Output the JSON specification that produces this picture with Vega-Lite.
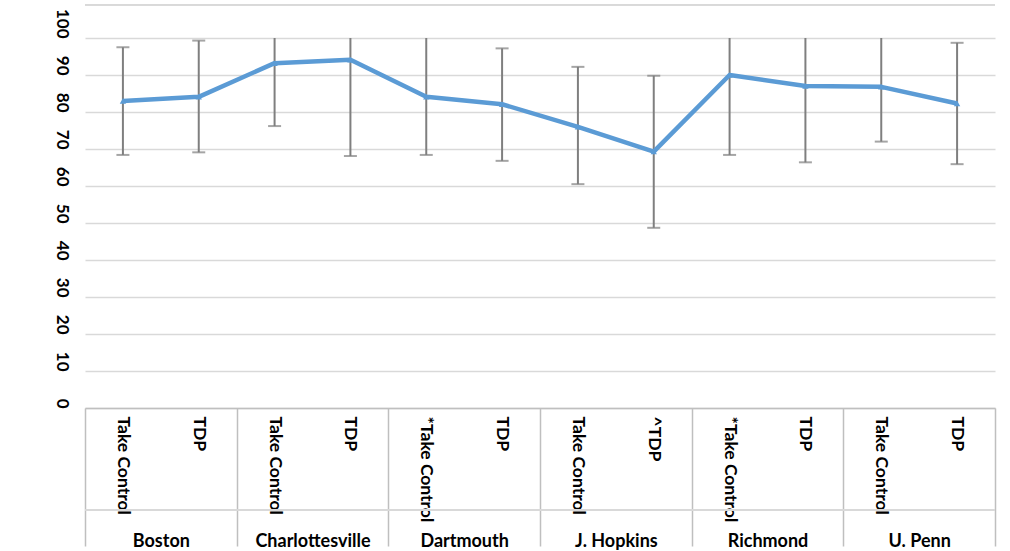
{
  "$schema": "https://vega.github.io/schema/vega-lite/v6.json",
  "width": 910,
  "height": 370,
  "autosize": "none",
  "padding": {"left": 85, "top": 38, "right": 15, "bottom": 143},
  "background": "white",
  "config": {
    "view": {"stroke": null},
    "font": "Lato",
    "axisY": {
      "grid": true, "gridColor": "#d9d9d9", "gridWidth": 1.5,
      "domain": false, "ticks": false, "tickCount": 10,
      "labelAngle": 90, "labelAlign": "right", "labelBaseline": "middle",
      "labelPadding": 24, "labelFont": "Lato", "labelFontSize": 17, "labelFontWeight": "bold", "labelColor": "#000000"
    }
  },
  "data": {
    "values": [
      {"id": "Boston|Take Control", "site": "Boston", "arm": "Take Control", "value": 83.0, "lower": 68.4, "upper": 97.5, "upperCap": 97.5},
      {"id": "Boston|TDP", "site": "Boston", "arm": "TDP", "value": 84.1, "lower": 69.1, "upper": 99.3, "upperCap": 99.3},
      {"id": "Charlottesville|Take Control", "site": "Charlottesville", "arm": "Take Control", "value": 93.2, "lower": 76.2, "upper": 100, "upperCap": null},
      {"id": "Charlottesville|TDP", "site": "Charlottesville", "arm": "TDP", "value": 94.1, "lower": 68.1, "upper": 100, "upperCap": null},
      {"id": "Dartmouth|*Take Control", "site": "Dartmouth", "arm": "*Take Control", "value": 84.1, "lower": 68.4, "upper": 100, "upperCap": null},
      {"id": "Dartmouth|TDP", "site": "Dartmouth", "arm": "TDP", "value": 82.1, "lower": 66.8, "upper": 97.2, "upperCap": 97.2},
      {"id": "J. Hopkins|Take Control", "site": "J. Hopkins", "arm": "Take Control", "value": 76.0, "lower": 60.5, "upper": 92.2, "upperCap": 92.2},
      {"id": "J. Hopkins|^TDP", "site": "J. Hopkins", "arm": "^TDP", "value": 69.3, "lower": 48.7, "upper": 89.8, "upperCap": 89.8},
      {"id": "Richmond|*Take Control", "site": "Richmond", "arm": "*Take Control", "value": 90.0, "lower": 68.4, "upper": 100, "upperCap": null},
      {"id": "Richmond|TDP", "site": "Richmond", "arm": "TDP", "value": 87.0, "lower": 66.4, "upper": 100, "upperCap": null},
      {"id": "U. Penn|Take Control", "site": "U. Penn", "arm": "Take Control", "value": 86.8, "lower": 72.0, "upper": 100, "upperCap": null},
      {"id": "U. Penn|TDP", "site": "U. Penn", "arm": "TDP", "value": 82.3, "lower": 65.9, "upper": 98.7, "upperCap": 98.7}
    ]
  },
  "resolve": {"scale": {"x": "independent"}, "axis": {"x": "independent"}},
  "layer": [
    {
      "mark": {"type": "rule", "color": "#d9d9d9", "strokeWidth": 1.5},
      "encoding": {
        "y": {"datum": 109, "type": "quantitative", "scale": {"domain": [0, 100]}, "axis": {"title": null}}
      }
    },
    {
      "mark": {"type": "rule", "color": "#d9d9d9", "strokeWidth": 1.5},
      "encoding": {
        "y": {"datum": -27.6, "type": "quantitative", "scale": {"domain": [0, 100]}, "axis": {"title": null}}
      }
    },
    {
      "mark": {"type": "point", "opacity": 0},
      "encoding": {
        "x": {
          "field": "site", "type": "nominal", "sort": null,
          "scale": {"type": "band", "paddingInner": 0, "paddingOuter": 0},
          "axis": {
            "orient": "bottom", "offset": 0, "title": null,
            "domain": false, "ticks": true, "tickBand": "extent",
            "tickSize": 138, "tickColor": "#bfbfbf", "tickWidth": 1.5,
            "labelAngle": 0, "labelAlign": "center", "labelBaseline": "top",
            "labelPadding": -14, "labelFont": "Lato", "labelFontSize": 18, "labelFontWeight": "bold",
            "labelColor": "#000000", "labelOverlap": false
          }
        }
      }
    },
    {
      "encoding": {
        "x": {
          "field": "id", "type": "nominal",
          "sort": ["Boston|Take Control", "Boston|TDP", "Charlottesville|Take Control", "Charlottesville|TDP", "Dartmouth|*Take Control", "Dartmouth|TDP", "J. Hopkins|Take Control", "J. Hopkins|^TDP", "Richmond|*Take Control", "Richmond|TDP", "U. Penn|Take Control", "U. Penn|TDP"],
          "scale": {"type": "band", "paddingInner": 0, "paddingOuter": 0},
          "axis": {
            "orient": "bottom", "offset": 0, "title": null,
            "domain": true, "domainColor": "#bfbfbf", "domainWidth": 1.5,
            "ticks": false, "labelExpr": "split(datum.value, '|')[1]",
            "labelAngle": 90, "labelAlign": "left", "labelBaseline": "middle",
            "labelPadding": 8, "labelFont": "Lato", "labelFontSize": 17.5, "labelFontWeight": "bold",
            "labelColor": "#000000", "labelOverlap": false
          }
        }
      },
      "layer": [
        {
          "mark": {"type": "rule", "color": "#7f7f7f", "strokeWidth": 2},
          "encoding": {
            "y": {"field": "lower", "type": "quantitative", "scale": {"domain": [0, 100]}, "axis": {"title": null}},
            "y2": {"field": "upper"}
          }
        },
        {
          "mark": {"type": "tick", "color": "#7f7f7f", "thickness": 2, "size": 13, "orient": "horizontal"},
          "encoding": {
            "y": {"field": "lower", "type": "quantitative", "scale": {"domain": [0, 100]}, "axis": {"title": null}}
          }
        },
        {
          "mark": {"type": "tick", "color": "#7f7f7f", "thickness": 2, "size": 13, "orient": "horizontal"},
          "encoding": {
            "y": {"field": "upperCap", "type": "quantitative", "scale": {"domain": [0, 100]}, "axis": {"title": null}}
          }
        },
        {
          "mark": {"type": "line", "color": "#5b9bd5", "strokeWidth": 4.5, "strokeJoin": "round"},
          "encoding": {
            "y": {"field": "value", "type": "quantitative", "scale": {"domain": [0, 100]}, "axis": {"title": null}}
          }
        },
        {
          "mark": {"type": "point", "shape": "triangle-up", "filled": true, "color": "#5b9bd5", "size": 40, "opacity": 1},
          "encoding": {
            "y": {"field": "value", "type": "quantitative", "scale": {"domain": [0, 100]}, "axis": {"title": null}}
          }
        }
      ]
    }
  ]
}
